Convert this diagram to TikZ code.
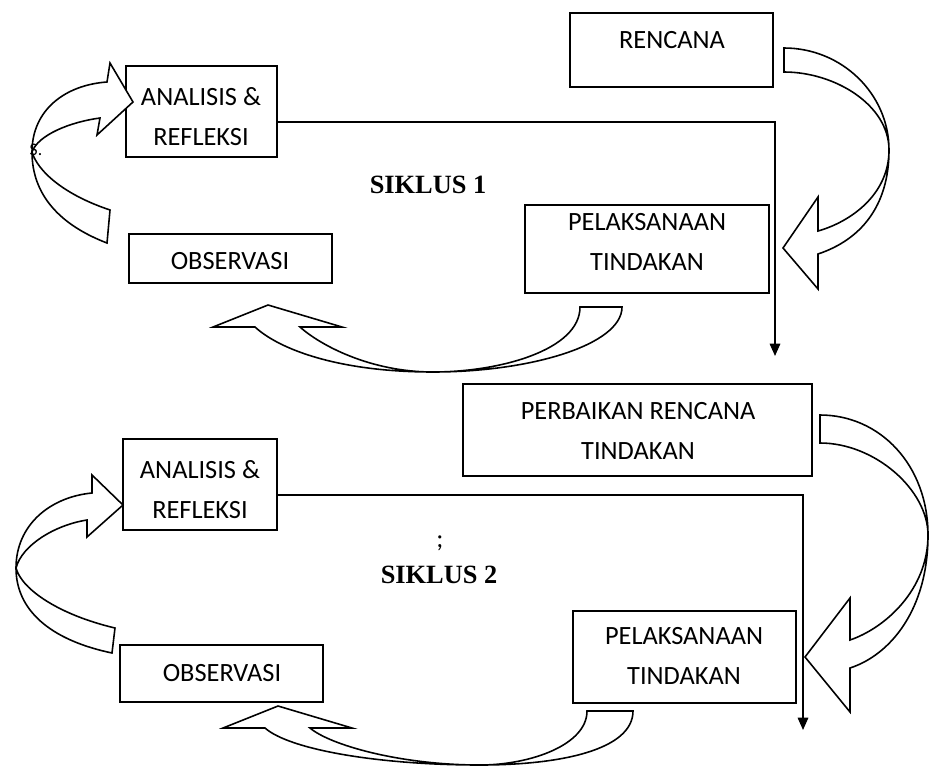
\documentclass[tikz,border=0pt]{standalone}
\usepackage{fontspec}
\setmainfont{Carlito}
\newfontfamily\sikfont{Liberation Serif}
\usetikzlibrary{fit,arrows.meta}
\begin{document}
\begin{tikzpicture}[x=0.02cm,y=-0.02cm,
  box/.style={draw, line width=0.8pt, inner sep=0pt, outer sep=0pt},
  lbl/.style={align=center, font=\fontsize{15}{22.7}\selectfont, inner sep=0pt},
  sik/.style={font=\sikfont\bfseries\fontsize{15}{18}\selectfont, inner sep=0pt},
  conn/.style={line width=0.8pt, -{Triangle[length=7pt,width=6pt]}},
  curv/.style={draw, fill=white, line width=0.9pt, line join=miter}]
\useasboundingbox (0,0) rectangle (932,767);

% ---------- boxes ----------
\node[box, fit={(570,13) (773,87)}] (ren) {};
\node[box, fit={(126,66) (277,157)}] (an1) {};
\node[box, fit={(129,234) (332,283)}] (ob1) {};
\node[box, fit={(525,205) (769,293)}] (pl1) {};
\node[box, fit={(463,384) (812,476)}] (per) {};
\node[box, fit={(123,439) (277,530)}] (an2) {};
\node[box, fit={(120,645) (323,702)}] (ob2) {};
\node[box, fit={(573,611) (796,703)}] (pl2) {};

% ---------- labels ----------
\node[lbl] (renT) at (672,40) {RENCANA};
\node[lbl] (an1T) at (201,117) {ANALISIS \&\\REFLEKSI};
\node[lbl] (ob1T) at (230,261) {OBSERVASI};
\node[lbl] (pl1T) at (647,242) {PELAKSANAAN\\TINDAKAN};
\node[lbl] (perT) at (638,431) {PERBAIKAN RENCANA\\TINDAKAN};
\node[lbl] (an2T) at (200,490) {ANALISIS \&\\REFLEKSI};
\node[lbl] (ob2T) at (222,673) {OBSERVASI};
\node[lbl] (pl2T) at (684,656) {PELAKSANAAN\\TINDAKAN};
\node[sik] (s1) at (428,185) {SIKLUS 1};
\node[sik] (s2) at (439,575) {SIKLUS 2};
\node[lbl] (semi) at (440,543) {;};

% ---------- connectors ----------
\coordinate (c1) at (775,122);
\coordinate (c1e) at (775,356);
\draw[conn] (an1.east |- c1) -- (c1) -- (c1e);
\coordinate (c2) at (803,495);
\coordinate (c2e) at (803,730);
\draw[conn] (an2.east |- c2) -- (c2) -- (c2e);

% ---------- curved ribbon arrows, cycle 1 ----------
\draw[curv] (784,48) .. controls (842,48) and (889,94) .. (889,150)
  .. controls (889,207) and (860,240) .. (818,254) -- (818,289) -- (783,248)
  -- (818,197) -- (818,231) .. controls (850,222) and (889,195) .. (889,150)
  .. controls (889,105) and (835,72) .. (784,72) -- cycle;
\draw[curv] (622,307) .. controls (622,345) and (530,372) .. (433,372)
  .. controls (340,372) and (280,350) .. (255,327) -- (213,327) -- (268,305)
  -- (342,327) -- (300,327) .. controls (320,345) and (370,372) .. (433,372)
  .. controls (500,372) and (580,350) .. (580,307) -- cycle;
\draw[curv] (107,243) .. controls (60,225) and (32,195) .. (32,152)
  .. controls (32,110) and (65,85) .. (107,82) -- (110,63) -- (133,102)
  -- (97,135) -- (100,118) .. controls (70,122) and (38,135) .. (32,152)
  .. controls (38,172) and (65,195) .. (110,210) -- cycle;
\node[font=\fontsize{10}{11}\selectfont, inner sep=0pt] (sdot) at (36,150) {S.};

% ---------- curved ribbon arrows, cycle 2 ----------
\draw[curv] (820,415) .. controls (880,415) and (928,465) .. (928,535)
  .. controls (928,610) and (890,655) .. (850,668) -- (850,712) -- (805,657)
  -- (850,598) -- (850,640) .. controls (885,628) and (928,590) .. (928,535)
  .. controls (928,490) and (875,443) .. (820,443) -- cycle;
\draw[curv] (633,711) .. controls (633,750) and (560,765) .. (480,765)
  .. controls (380,765) and (290,750) .. (265,728) -- (223,728) -- (278,706)
  -- (352,728) -- (310,728) .. controls (330,745) and (400,765) .. (480,765)
  .. controls (530,765) and (587,745) .. (587,711) -- cycle;
\draw[curv] (112,653) .. controls (50,640) and (16,610) .. (16,568)
  .. controls (16,525) and (50,497) .. (92,493) -- (92,475) -- (123,505)
  -- (87,537) -- (87,520) .. controls (55,525) and (22,545) .. (16,568)
  .. controls (22,590) and (60,615) .. (115,628) -- cycle;
\end{tikzpicture}
\end{document}
